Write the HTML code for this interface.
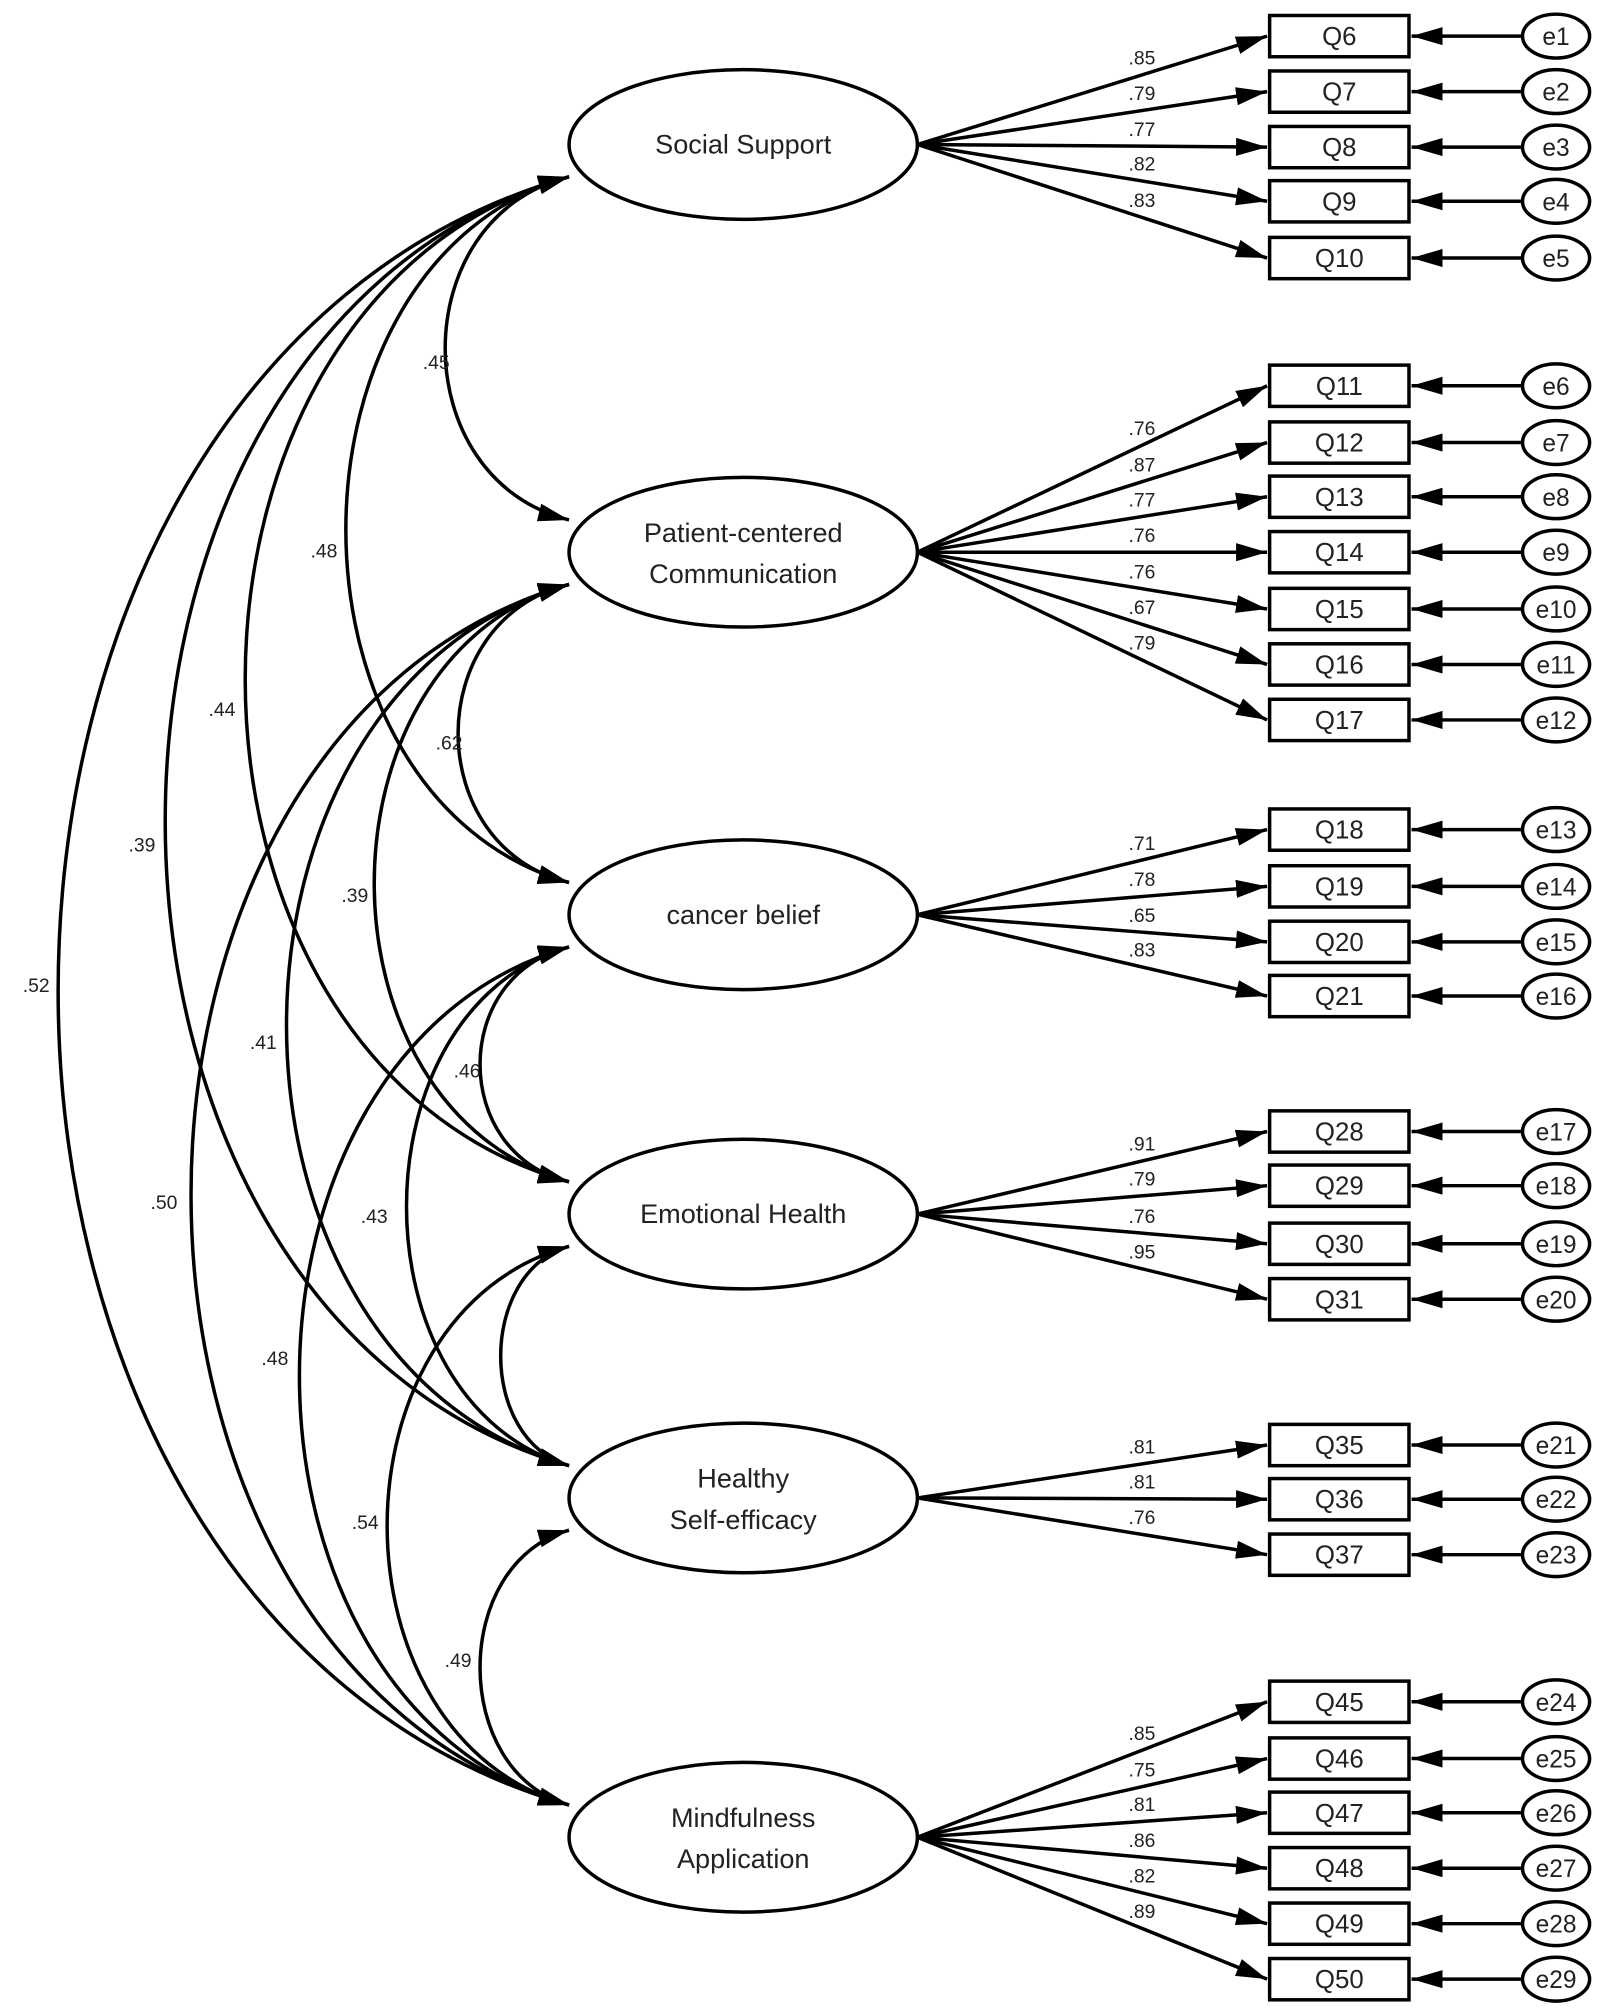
<!DOCTYPE html>
<html><head><meta charset="utf-8"><style>
html,body{margin:0;padding:0;background:#fff;}
svg{display:block;}
text{font-family:"Liberation Sans","DejaVu Sans",sans-serif;fill:#222;}
</style></head><body>
<svg width="1600" height="2014" viewBox="0 0 1240 1561" xmlns="http://www.w3.org/2000/svg">
<defs>
<marker id="b" viewBox="0 0 24 14" refX="24" refY="7" markerWidth="24" markerHeight="14" markerUnits="userSpaceOnUse" orient="auto-start-reverse"><path d="M0,0 L24,7 L0,14 z" fill="#000"/></marker>
</defs>
<g id="main" fill="none" stroke="#000" stroke-width="2.7"></g>
<g id="txt"></g>
<script>
var NS="http://www.w3.org/2000/svg";
var g=document.getElementById('main'),t=document.getElementById('txt');
function el(p,n,a,txt){var e=document.createElementNS(NS,n);for(var k in a)e.setAttribute(k,a[k]);if(txt!==undefined)e.textContent=txt;p.appendChild(e);return e;}
var L=[
 {y:112,n:["Social Support"],q:[["Q6",28,".85"],["Q7",71,".79"],["Q8",114,".77"],["Q9",156,".82"],["Q10",200,".83"]]},
 {y:428,n:["Patient-centered","Communication"],q:[["Q11",299,".76"],["Q12",343,".87"],["Q13",385,".77"],["Q14",428,".76"],["Q15",472,".76"],["Q16",515,".67"],["Q17",558,".79"]]},
 {y:709,n:["cancer belief"],q:[["Q18",643,".71"],["Q19",687,".78"],["Q20",730,".65"],["Q21",772,".83"]]},
 {y:941,n:["Emotional Health"],q:[["Q28",877,".91"],["Q29",919,".79"],["Q30",964,".76"],["Q31",1007,".95"]]},
 {y:1161,n:["Healthy","Self-efficacy"],q:[["Q35",1120,".81"],["Q36",1162,".81"],["Q37",1205,".76"]]},
 {y:1424,n:["Mindfulness","Application"],q:[["Q45",1319,".85"],["Q46",1363,".75"],["Q47",1405,".81"],["Q48",1448,".86"],["Q49",1491,".82"],["Q50",1534,".89"]]}
];
var e=1;
L.forEach(function(l){
 el(g,'ellipse',{cx:576,cy:l.y,rx:135,ry:58});
 if(l.n.length==1) el(t,'text',{x:576,y:l.y+7,'text-anchor':'middle','font-size':21},l.n[0]);
 else {el(t,'text',{x:576,y:l.y-8,'text-anchor':'middle','font-size':21},l.n[0]);el(t,'text',{x:576,y:l.y+24,'text-anchor':'middle','font-size':21},l.n[1]);}
 l.q.forEach(function(q){
  var y=q[1];
  el(g,'rect',{x:984,y:y-16,width:108,height:32});
  el(t,'text',{x:1038,y:y+7,'text-anchor':'middle','font-size':20},q[0]);
  el(g,'ellipse',{cx:1206,cy:y,rx:26,ry:17});
  el(t,'text',{x:1206,y:y+7,'text-anchor':'middle','font-size':19},'e'+(e++));
  el(g,'line',{x1:1180,y1:y,x2:1094,y2:y,'marker-end':'url(#b)'});
  el(g,'line',{x1:711,y1:l.y,x2:982,y2:y,'marker-end':'url(#b)'});
  var mx=885, my=l.y+(y-l.y)*(mx-711)/(982-711);
  el(t,'text',{x:mx,y:my-8,'text-anchor':'middle','font-size':15},q[2]);
 });
});
var C=[[0,1,345,".45",338,281],[0,2,268,".48",251,427],[0,3,190,".44",172,550],[0,4,128,".39",110,655],[0,5,45,".52",28,764],
[1,2,355,".62",348,576],[1,3,290,".39",275,694],[1,4,222,".41",204,808],[1,5,148,".50",127,932],
[2,3,372,".46",362,830],[2,4,315,".43",290,943],[2,5,232,".48",213,1053],
[3,4,388,null],[3,5,300,".54",283,1180],[4,5,372,".49",355,1287]];
C.forEach(function(c){
 var y1=L[c[0]].y+25,y2=L[c[1]].y-25,d=y2-y1;
 var X=(8*c[2]-882)/6;
 el(g,'path',{d:'M441,'+y1+' C'+X+','+(y1+0.12*d)+' '+X+','+(y2-0.12*d)+' 441,'+y2,'marker-start':'url(#b)','marker-end':'url(#b)'});
 if(c[3]) el(t,'text',{x:c[4],y:c[5]+5,'text-anchor':'middle','font-size':15},c[3]);
});
</script>
</svg>
</body></html>
